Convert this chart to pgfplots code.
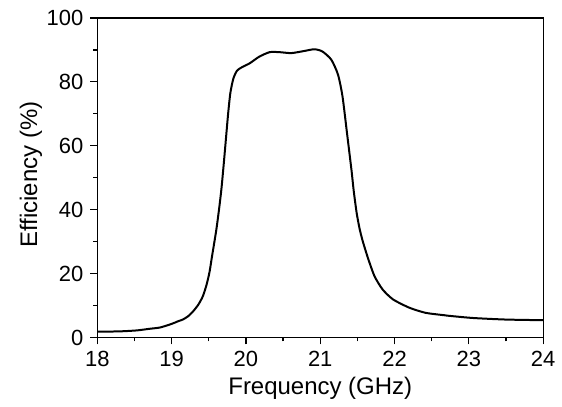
\documentclass[border=0pt]{standalone}
\usepackage{fontspec}
\setmainfont{Liberation Sans}
\usepackage{pgfplots}
\pgfplotsset{compat=1.18}

\begin{document}
\begin{tikzpicture}
\begin{axis}[
  scale only axis,
  width=223.25pt, height=160pt,
  xmin=18, xmax=24, ymin=0, ymax=100,
  xtick={18,19,...,24}, ytick={0,20,...,100},
  minor x tick num=1, minor y tick num=1,
  tick align=outside,
  xtick pos=bottom, ytick pos=left,
  major tick length=3.5pt, minor tick length=2pt,
  axis line style={line width=0.6pt},
  every tick/.style={line width=0.6pt, black},
  tick label style={font=\fontsize{11}{13}\selectfont},
  /pgf/number format/assume math mode=true,
  label style={font=\fontsize{12}{14}\selectfont},
  xlabel={Frequency (GHz)},
  ylabel={Efficiency (\%)},
  xlabel style={at={(axis description cs:0.5,-0.159)}, anchor=center},
  ylabel style={at={(axis description cs:-0.149,0.51)}, anchor=center},
  clip=false,
]
\addplot[black, line width=1pt, smooth, tension=0.4] coordinates {
(18.00,1.8) (18.30,1.9) (18.53,2.2) (18.70,2.7) (18.84,3.1) (18.97,4.0)
(19.05,4.7) (19.09,5.1) (19.15,5.6) (19.22,6.6) (19.29,8.2) (19.36,10.3)
(19.42,12.9) (19.47,16.5) (19.51,20.5) (19.54,24.9) (19.60,33.5)
(19.64,40.5) (19.67,46.5) (19.70,54.0) (19.73,62.0) (19.76,70.0)
(19.79,76.5) (19.83,81.0) (19.88,83.5) (19.94,84.5) (20.05,85.8) (20.18,87.9)
(20.32,89.3) (20.45,89.3) (20.61,89.0) (20.77,89.6) (20.92,90.2)
(21.03,89.5) (21.15,86.9) (21.24,82.2) (21.30,75.4)
(21.36,64.0) (21.42,52.5) (21.45,46.0) (21.49,39.0) (21.53,34.0)
(21.57,30.3) (21.64,25.0) (21.73,19.2) (21.84,15.0) (21.98,11.9) (22.20,9.3)
(22.42,7.7) (22.69,6.9) (22.72,6.8) (23.05,6.1) (23.50,5.6) (24.00,5.4)
};
\path (axis description cs:-0.2184,-0.2031) rectangle (axis description cs:1.0403,1.05625);
\end{axis}
\end{tikzpicture}
\end{document}
